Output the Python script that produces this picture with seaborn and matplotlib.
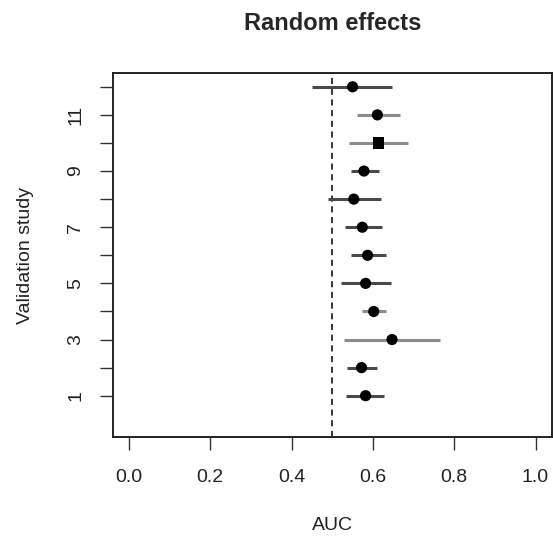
import matplotlib
matplotlib.use("Agg")
import matplotlib.pyplot as plt
import seaborn as sns
import pandas as pd
import numpy as np

# forest plot values
study = [1, 2, 3, 4, 5, 6, 7, 8, 9, 10, 11, 12]
auc = [0.582, 0.572, 0.647, 0.602, 0.582, 0.587, 0.574, 0.553, 0.578, 0.613, 0.611, 0.550]
lower = [0.535, 0.536, 0.528, 0.572, 0.521, 0.546, 0.531, 0.490, 0.545, 0.541, 0.560, 0.451]
upper = [0.627, 0.609, 0.765, 0.632, 0.644, 0.632, 0.623, 0.619, 0.614, 0.687, 0.666, 0.648]
shape = ['o', 'o', 'o', 'o', 'o', 'o', 'o', 'o', 'o', 's', 'o', 'o']
line_shade = ['dark', 'dark', 'light', 'light', 'dark', 'dark', 'dark', 'dark', 'dark', 'light', 'light', 'dark']

ytick_pos = list(range(1, 13))
ytick_lab = ['1', '', '3', '', '5', '', '7', '', '9', '', '11', '']
xtick_pos = [0.0, 0.2, 0.4, 0.6, 0.8, 1.0]

sns.set_style("white")
plt.rcParams['font.family'] = ['Liberation Sans', 'DejaVu Sans']

df = pd.DataFrame({'study': study, 'auc': auc, 'lower': lower, 'upper': upper,
                   'shape': shape, 'shade': line_shade})

fig = plt.figure(figsize=(5.53, 5.37), dpi=100)
ax = fig.add_axes([0.2038, 0.1857, 0.794, 0.6778])

shade_col = {'dark': '#4a4a4a', 'light': '#8c8c8c'}
for s, sub in df.groupby('shade'):
    ax.hlines(sub['study'], sub['lower'], sub['upper'], color=shade_col[s], lw=2.2, zorder=2)

ax.axvline(0.5, color='black', ls=(0, (4, 3)), lw=1.1, zorder=1)

sns.scatterplot(data=df, x='auc', y='study', style='shape',
                markers={'o': 'o', 's': 's'}, color='black', s=65,
                edgecolor='black', linewidth=0, legend=False, ax=ax, zorder=3)

ax.set_xlim(-0.04, 1.04)
ax.set_ylim(-0.48, 12.48)
ax.set_xticks(xtick_pos)
ax.set_xticklabels([f'{v:.1f}' for v in xtick_pos])
ax.set_yticks(ytick_pos)
ax.set_yticklabels(ytick_lab, rotation=90, va='center')

ax.tick_params(axis='both', bottom=True, left=True, direction='out', length=9.5,
               width=1.0, color='#333333', labelsize=14, labelcolor='#222222')
ax.tick_params(axis='x', pad=13)
ax.tick_params(axis='y', pad=11)

for sp in ax.spines.values():
    sp.set_visible(True)
    sp.set_linewidth(1.4)
    sp.set_color('#222222')

ax.set_xlabel('AUC', fontsize=14, labelpad=23, color='#222222')
ax.set_ylabel('Validation study', fontsize=14, labelpad=24, color='#222222')
ax.set_title('Random effects', fontsize=17, fontweight='bold', pad=31)

fig.savefig('out.png', dpi=100)
